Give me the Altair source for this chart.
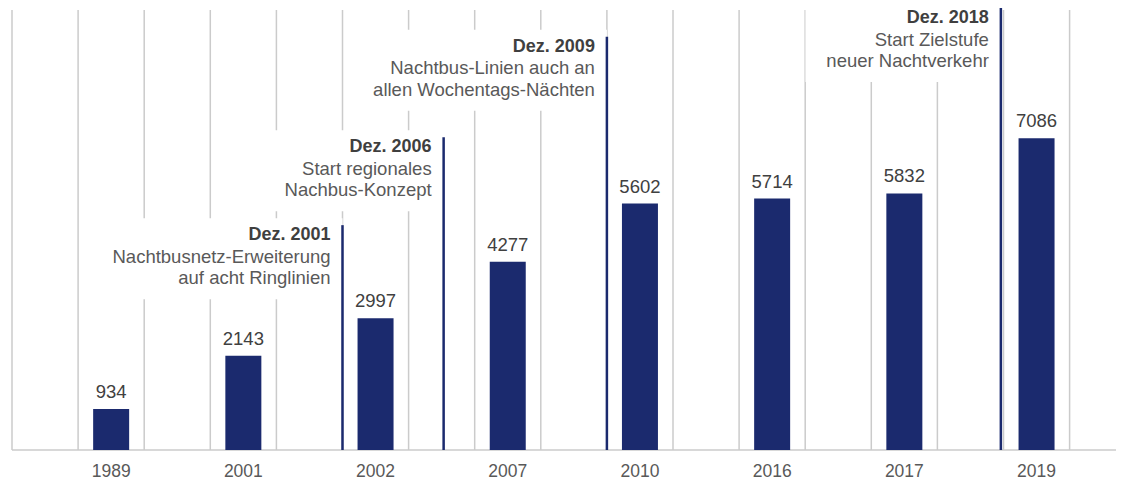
import altair as alt
import pandas as pd

# ---- data ----
years = ["1989", "2001", "2002", "2007", "2010", "2016", "2017", "2019"]
values = [934, 2143, 2997, 4277, 5602, 5714, 5832, 7086]

ann_titles = ["Dez. 2001", "Dez. 2006", "Dez. 2009", "Dez. 2018"]
ann_line1 = ["Nachtbusnetz-Erweiterung", "Start regionales", "Nachtbus-Linien auch an", "Start Zielstufe"]
ann_line2 = ["auf acht Ringlinien", "Nachbus-Konzept", "allen Wochentags-Nächten", "neuer Nachtverkehr"]
ann_slot = [1.75, 2.515, 3.75, 6.73]      # position in bar-slot units (bar i sits at slot i)
ann_top = [5110, 7110, 9390, 10045]       # top of marker line, value units

# ---- layout ----
NAVY = "#1b2a6e"
GRID = "#cbcbcb"
W, H = 1108, 442
X0, X1 = -0.0605, 16.702
PX_Y = (H - 2) / 10000
Y1 = 10000 + 2 / PX_Y
PX_X = W / (X1 - X0)
FONT = "Liberation Sans"


def slot_to_x(s):
    return 1.5 + 2 * s


bars = pd.DataFrame({"year": years, "value": values,
                     "x": [slot_to_x(i) for i in range(len(years))]})

ann = pd.DataFrame({"title": ann_titles, "l1": ann_line1, "l2": ann_line2,
                    "x": [slot_to_x(s) for s in ann_slot], "top": ann_top})
maxlen = [max(len(a), len(b), len(c)) for a, b, c in zip(ann_titles, ann_line1, ann_line2)]
ann["bx"] = [x - (9.3 * m + 28) / PX_X for x, m in zip(ann["x"], maxlen)]
ann["btop"] = ann["top"] + 7 / PX_Y
ann["bbot"] = ann["top"] - 74 / PX_Y
ann["zero"] = 0

grid = pd.DataFrame({"g": list(range(17)), "top": 10000, "zero": 0})
base = pd.DataFrame({"a": [0], "b": [X1], "y": [0]})

xs = alt.Scale(domain=[X0, X1], nice=False, zero=False, padding=0)
ys = alt.Scale(domain=[0, Y1], nice=False, zero=False, padding=0)

gridlines = alt.Chart(grid).mark_rule(color=GRID, strokeWidth=1.5).encode(
    x=alt.X("g:Q", scale=xs, axis=None),
    y=alt.Y("top:Q", scale=ys, axis=None),
    y2="zero:Q",
)

boxes = alt.Chart(ann).mark_rect(color="white").encode(
    x=alt.X("bx:Q", scale=xs, axis=None),
    x2="x:Q",
    y=alt.Y("btop:Q", scale=ys, axis=None),
    y2="bbot:Q",
)

baseline = alt.Chart(base).mark_rule(color=GRID, strokeWidth=1.5).encode(
    x=alt.X("a:Q", scale=xs, axis=None),
    x2="b:Q",
    y=alt.Y("y:Q", scale=ys, axis=None),
)

ann_lines = alt.Chart(ann).mark_rule(color=NAVY, strokeWidth=2.5).encode(
    x=alt.X("x:Q", scale=xs, axis=None),
    y=alt.Y("top:Q", scale=ys, axis=None),
    y2="zero:Q",
)

bar_marks = alt.Chart(bars).mark_bar(color=NAVY, size=36).encode(
    x=alt.X("x:Q", scale=xs, axis=None),
    y=alt.Y("value:Q", scale=ys, axis=None),
)

value_labels = alt.Chart(bars).mark_text(
    font=FONT, fontSize=18.5, color="#404040", baseline="alphabetic", dy=-11
).encode(
    x=alt.X("x:Q", scale=xs, axis=None),
    y=alt.Y("value:Q", scale=ys, axis=None),
    text="value:Q",
)

year_labels = alt.Chart(bars).mark_text(
    font=FONT, fontSize=17.5, color="#595959", baseline="alphabetic", dy=27
).encode(
    x=alt.X("x:Q", scale=xs, axis=None),
    y=alt.value(H),
    text="year:N",
)

common = dict(font=FONT, align="right", baseline="middle", dx=-12)
t_title = alt.Chart(ann).mark_text(fontWeight="bold", fontSize=18, color="#3f3f3f", dy=10, **common).encode(
    x=alt.X("x:Q", scale=xs, axis=None), y=alt.Y("top:Q", scale=ys, axis=None), text="title:N")
t_l1 = alt.Chart(ann).mark_text(color="#595959", fontSize=18.5, dy=31.5, **common).encode(
    x=alt.X("x:Q", scale=xs, axis=None), y=alt.Y("top:Q", scale=ys, axis=None), text="l1:N")
t_l2 = alt.Chart(ann).mark_text(color="#595959", fontSize=18.5, dy=53, **common).encode(
    x=alt.X("x:Q", scale=xs, axis=None), y=alt.Y("top:Q", scale=ys, axis=None), text="l2:N")

chart = alt.layer(
    gridlines, boxes, baseline, ann_lines, bar_marks, value_labels, year_labels,
    t_title, t_l1, t_l2,
).properties(
    width=W, height=H,
    padding={"left": 0, "right": 0, "top": 0, "bottom": 32},
    autosize=alt.AutoSizeParams(type="none"),
    background="white",
).configure_view(stroke=None)

chart.save("out.html", embed_options={"renderer": "svg", "actions": False})
